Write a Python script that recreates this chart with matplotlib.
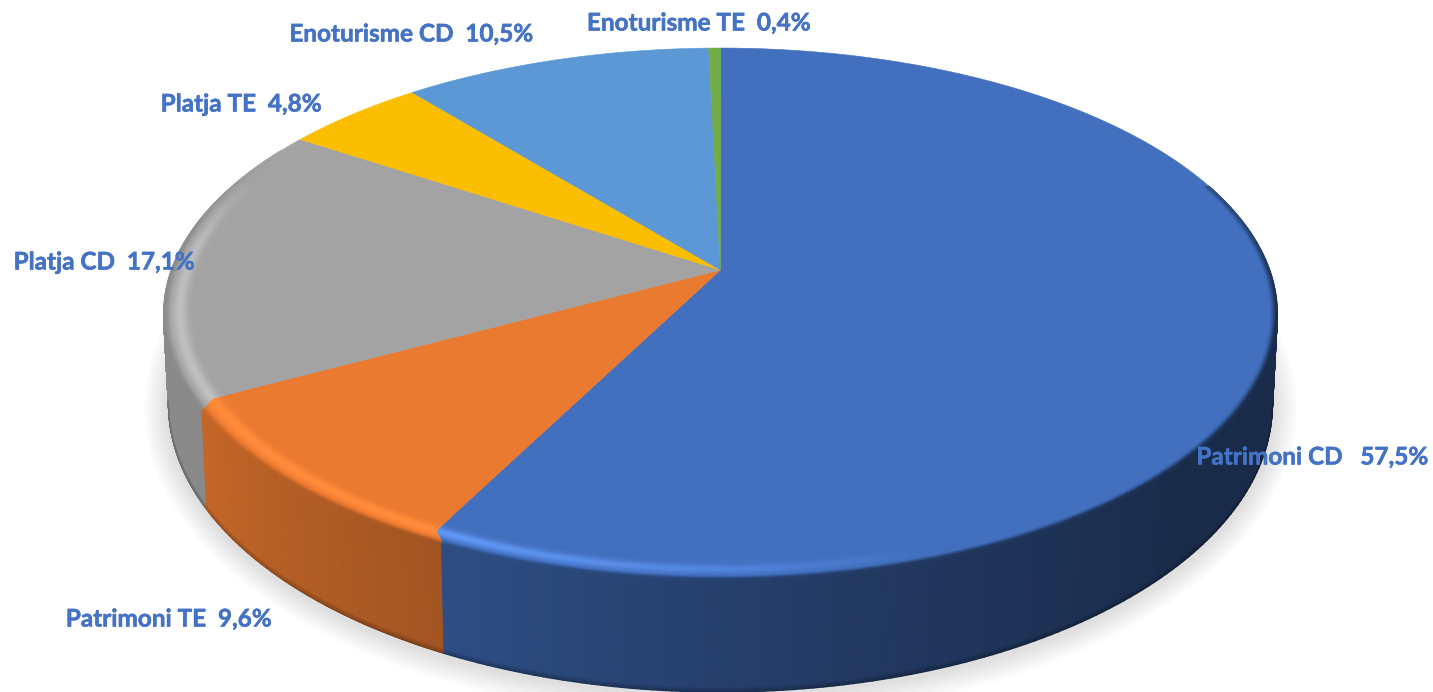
#!/usr/bin/env python3
"""Tilted 3D pie of tourism product shares, drawn with a perspective map of the unit disc."""

import matplotlib

matplotlib.use("Agg")
import matplotlib.patheffects as pe
import matplotlib.pyplot as plt
import numpy as np

# Data
categories = ["Patrimoni CD", "Patrimoni TE", "Platja CD", "Platja TE", "Enoturisme CD", "Enoturisme TE"]
shares = [57.5, 9.6, 17.1, 4.8, 10.5, 0.4]
colors = ["#4270BF", "#EA7A30", "#A3A3A3", "#FBBE00", "#5B98D5", "#70AD47"]

W, H = 1433, 692
CX = 720.5
TILT = 0.1655
TOP_DISC = (270.0, 258.7, 549.3)  # apex y, y scale, x scale
LOW_DISC = (357.0, 279.7, 544.4)
WALL_SHIFT = 1.5
RING = 0.925


def project(disc, theta, r=1.0):
    """theta in degrees clockwise from the back of the pie, r in disc radii."""
    y0, a, b = disc
    t = np.radians(theta)
    u, v = r * np.sin(t), r * np.cos(t)
    w = 1 + TILT * v
    return CX + b * u / w, y0 - a * v / w


def rgb(color):
    return np.array(matplotlib.colors.to_rgb(color))


def smooth(x, lo, hi):
    s = np.clip((x - lo) / (hi - lo), 0, 1)
    return s * s * (3 - 2 * s)


def wall_shade(theta):
    return np.interp(theta, [60, 130, 165, 205, 240, 275], [0.38, 0.38, 0.5, 0.69, 0.84, 0.86])


def draw_wall(ax, color, t0, t1):
    theta = np.linspace(t0, t1, 120)
    h = np.linspace(0, 1, 24)
    x0, y0 = project(TOP_DISC, theta)
    x1, y1 = project(LOW_DISC, theta)
    X = np.outer(1 - h, x0) + np.outer(h, x1)
    Y = np.outer(1 - h, y0) + np.outer(h, y1)
    shade = wall_shade(theta)[None, :] * (1 - 0.3 * smooth(h, 0.96, 1.0))[:, None]
    C = shade[:, :, None] * rgb(color)
    ax.pcolormesh(X, Y, C, shading="gouraud", zorder=2)


def draw_bevel(ax, color, t0, t1, gain, shift0, shift1):
    """Soft ridge along the rim: light at the front left, dark where it meets the wall."""
    n = max(int(t1 - t0) * 3, 6)
    radii = np.linspace(RING, 1.0, 24)
    s = (radii - RING) / (1 - RING)
    # slice limits bend towards the wall corners only right at the rim
    bend = smooth(s, 0.55, 1.0)
    lo = t0 - shift0 * bend
    hi = t1 - shift1 * bend
    T = np.array([np.linspace(a, b, n) for a, b in zip(lo, hi)])
    R = np.repeat(radii[:, None], n, axis=1)
    S = np.repeat(s[:, None], n, axis=1)
    X, Y = project(TOP_DISC, T, R)
    base = rgb(color)
    glow = gain * np.interp(T, [160, 182, 205, 250, 275, 292], [0, 0.6, 1, 1, 0.9, 0])
    bump = np.exp(-(((S - 0.62) / 0.17) ** 2))
    g = (glow * bump)[:, :, None]
    C = np.clip(base * (1 + 0.2 * g) + 0.07 * g, 0, 1)
    edge = smooth(S, 0.82, 1.0) * np.interp(T, [40, 100, 275, 300], [0, 1, 1, 0])
    dark = wall_shade(T)[:, :, None] * base
    C = C * (1 - edge[:, :, None]) + dark * edge[:, :, None]
    ax.pcolormesh(X, Y, C, shading="gouraud", zorder=4)


def main():
    plt.rcParams["font.family"] = ["Lato", "DejaVu Sans"]
    fig = plt.figure(figsize=(W / 100, H / 100), dpi=100)
    ax = fig.add_axes([0, 0, 1, 1])
    ax.set_xlim(0, W)
    ax.set_ylim(H, 0)
    ax.axis("off")

    # Slice limits in degrees clockwise from the back of the pie
    edges = np.cumsum([0.0] + shares) / sum(shares) * 360

    # Ground shadow
    t = np.linspace(0, 2 * np.pi, 300)
    for d in range(24, 0, -3):
        ax.fill(
            CX + (552 + d) * np.cos(t),
            408 + (287 + d) * np.sin(t),
            color="#000000",
            alpha=0.014,
            lw=0,
            zorder=1,
        )

    # Side wall, only the front part of the rim shows (between the two widest points)
    for i, color in enumerate(colors[:3]):
        t0 = 99.5 if i == 0 else edges[i] - WALL_SHIFT
        t1 = 260.5 if i == 2 else edges[i + 1] - WALL_SHIFT
        draw_wall(ax, color, t0, t1)

    # Top face
    for i, color in enumerate(colors):
        theta = np.linspace(edges[i], edges[i + 1], max(int(edges[i + 1] - edges[i]) * 2, 4))
        x, y = project(TOP_DISC, theta)
        ax.fill(
            np.r_[CX, x],
            np.r_[TOP_DISC[0], y],
            facecolor=color,
            edgecolor=color,
            lw=0.4,
            zorder=3,
        )

    # Rim
    gains = [1.0, 0.45, 0.6]
    for i, color in enumerate(colors[:3]):
        t0 = 70 if i == 0 else edges[i]
        t1 = 300 if i == 2 else edges[i + 1]
        shift0 = 0 if i == 0 else WALL_SHIFT
        shift1 = 0 if i == 2 else WALL_SHIFT
        draw_bevel(ax, color, t0, t1, gains[i], shift0, shift1)

    # Labels
    label_pos = [(1312, 457), (168.5, 619), (104, 262), (241, 104), (411, 34), (698.5, 23)]
    for i, name in enumerate(categories):
        gap = "   " if i == 0 else "  "
        text = f"{name}{gap}{shares[i]:.1f}".replace(".", ",") + "%"
        ax.text(
            label_pos[i][0],
            label_pos[i][1],
            text,
            color="#4472C4",
            fontsize=17.5,
            fontweight="bold",
            ha="center",
            va="center",
            zorder=6,
            path_effects=[pe.withStroke(linewidth=0.4, foreground="#4472C4")],
        )

    fig.savefig("out.png", dpi=100)
    plt.close(fig)


if __name__ == "__main__":
    main()
